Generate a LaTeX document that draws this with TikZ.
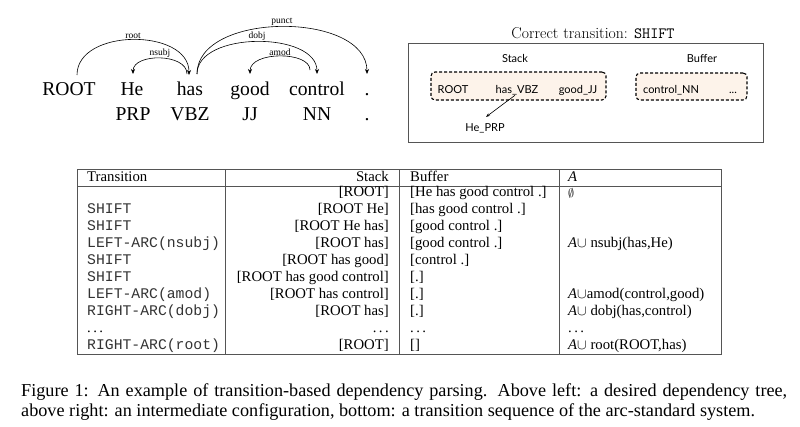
\documentclass[tikz,border=0pt]{standalone}
\usepackage{fontspec}
\newfontfamily\tms{Liberation Serif}
\newfontfamily\cour{Liberation Mono}
\newfontfamily\lato{Lato}
\usetikzlibrary{arrows.meta,calc}
\definecolor{peach}{HTML}{FDF3EA}
\definecolor{rulegray}{HTML}{555555}
\definecolor{monogray}{HTML}{333333}
\begin{document}
\begin{tikzpicture}[x=1pt,y=-1pt,
  word/.style={font=\tms\fontsize{19.6}{20}\selectfont, inner sep=0pt, anchor=base},
  deplbl/.style={font=\tms\fontsize{9.5}{10}\selectfont, inner sep=0.8pt},
  deparc/.style={draw, line width=0.6pt, -{Stealth[length=5pt,width=4pt]}},
  boxtxt/.style={font=\lato\fontsize{11}{12}\selectfont, inner sep=0pt, anchor=base},
  dbox/.style={draw, dashed, line width=1.1pt, dash pattern=on 3pt off 2pt, rounded corners=4pt, fill=peach},
  cell/.style={font=\tms\fontsize{14.75}{15}\selectfont, inner sep=0pt},
  mono/.style={font=\cour\fontsize{14.75}{15}\selectfont, text=monogray, inner sep=0pt},
  tline/.style={draw=rulegray, line width=0.8pt}
]
\useasboundingbox (0,0) rectangle (800,426);

% ---------- dependency tree ----------
\node[word] (w0) at (69,95) {ROOT};
\node[word] (w1) at (132,95) {He};
\node[word] (w2) at (190,95) {has};
\node[word] (w3) at (250,95) {good};
\node[word] (w4) at (317,95) {control};
\node[word] (w5) at (367,95) {.};
\node[word] (p1) at (133,120) {PRP};
\node[word] (p2) at (190,120) {VBZ};
\node[word] (p3) at (250,120) {JJ};
\node[word] (p4) at (317,120) {NN};
\node[word] (p5) at (367,120) {.};

\coordinate (r0) at ($(w0.base)+(8,-20)$);
\coordinate (r2) at ($(w2.base)+(-1,-20)$);
\coordinate (n2) at ($(w2.base)+(-3,-21)$);
\coordinate (n1) at ($(w1.base)+(1,-21)$);
\coordinate (d2) at ($(w2.base)+(7,-21)$);
\coordinate (d4) at ($(w4.base)+(0,-21)$);
\coordinate (a4) at ($(w4.base)+(-7,-25)$);
\coordinate (a3) at ($(w3.base)+(0,-21)$);
\coordinate (q5) at ($(w5.base)+(0,-21)$);

\draw[deparc] (r0) .. controls +(0,-47) and +(0,-47) .. node[deplbl, midway, above] {root} (r2);
\draw[deparc] (n2) .. controls +(0,-21) and +(0,-21) .. node[deplbl, midway, above] {nsubj} (n1);
\draw[deparc] (d2) .. controls +(0,-43) and +(0,-43) .. node[deplbl, midway, above] {dobj} (d4);
\draw[deparc] (a4) .. controls +(0,-19) and +(0,-23) .. node[deplbl, midway, above] {amod} (a3);
\draw[deparc] (d2) .. controls +(0,-63) and +(0,-63) .. node[deplbl, midway, above] {punct} (q5);

% ---------- configuration ----------
\node[anchor=base, inner sep=0pt, font=\fontsize{15.7}{16}\selectfont] (title) at (593,38) {Correct transition: \texttt{SHIFT}};
\node[draw=rulegray, line width=0.8pt, minimum width=355, minimum height=99, anchor=north west, inner sep=0pt] (cfg) at (408,43) {};
\node[boxtxt] (stk) at (515,62) {Stack};
\node[boxtxt] (buf) at (702,62) {Buffer};
\node[dbox, minimum width=175, minimum height=28] (sbox) at (518.5,86) {};
\node[dbox, minimum width=111, minimum height=27] (bbox) at (691.5,86.5) {};
\node[boxtxt] (c1) at (453,93.5) {ROOT};
\node[boxtxt] (c2) at (517,93.5) {has\_VBZ};
\node[boxtxt] (c3) at (578,93.5) {good\_JJ};
\node[boxtxt] (c4) at (671,93.5) {control\_NN};
\node[boxtxt] (c5) at (733,93.5) {...};
\node[boxtxt] (c6) at (485,131) {He\_PRP};
\draw[line width=0.6pt, -{Stealth[length=4pt,width=3pt]}] ($(c2.south)+(-2,0)$) -- ($(c6.north)+(1,-6)$);

% ---------- table ----------
\draw[tline] (77,169) rectangle (721,354);
\draw[tline] (77,186) -- (721,186);
\draw[tline] (225,169) -- (225,354);
\draw[tline] (399,169) -- (399,354);
\draw[tline] (559,169) -- (559,354);

\node[cell, anchor=base west] (h1) at (87,181) {Transition};
\node[cell, anchor=base east] (h2) at (389,181) {Stack};
\node[cell, anchor=base west] (h3) at (410,181) {Buffer};
\node[cell, anchor=base west] (h4) at (568,181) {\itshape A};

% row 0
\node[cell, anchor=base east] (s0) at (389,196.7) {[ROOT]};
\node[cell, anchor=base west] (b0) at (410,196.7) {[He has good control .]};
\node[anchor=base west, inner sep=0pt, font=\fontsize{12.5}{13}\selectfont] (a0) at (568,197) {$\emptyset$};
% row 1
\node[mono, anchor=base west] (t1) at (87,213.7) {SHIFT};
\node[cell, anchor=base east] (s1) at (389,213.7) {[ROOT He]};
\node[cell, anchor=base west] (b1) at (410,213.7) {[has good control .]};
% row 2
\node[mono, anchor=base west] (t2) at (87,230.6) {SHIFT};
\node[cell, anchor=base east] (s2) at (389,230.6) {[ROOT He has]};
\node[cell, anchor=base west] (b2) at (410,230.6) {[good control .]};
% row 3
\node[mono, anchor=base west] (t3) at (87,247.6) {LEFT-ARC(nsubj)};
\node[cell, anchor=base east] (s3) at (389,247.6) {[ROOT has]};
\node[cell, anchor=base west] (b3) at (410,247.6) {[good control .]};
\node[cell, anchor=base west] (a3c) at (568,247.6) {{\itshape A}$\cup$ nsubj(has,He)};
% row 4
\node[mono, anchor=base west] (t4) at (87,264.5) {SHIFT};
\node[cell, anchor=base east] (s4) at (389,264.5) {[ROOT has good]};
\node[cell, anchor=base west] (b4) at (410,264.5) {[control .]};
% row 5
\node[mono, anchor=base west] (t5) at (87,281.5) {SHIFT};
\node[cell, anchor=base east] (s5) at (389,281.5) {[ROOT has good control]};
\node[cell, anchor=base west] (b5) at (410,281.5) {[.]};
% row 6
\node[mono, anchor=base west] (t6) at (87,298.5) {LEFT-ARC(amod)};
\node[cell, anchor=base east] (s6) at (389,298.5) {[ROOT has control]};
\node[cell, anchor=base west] (b6) at (410,298.5) {[.]};
\node[cell, anchor=base west] (a6) at (568,298.5) {{\itshape A}$\cup$amod(control,good)};
% row 7
\node[mono, anchor=base west] (t7) at (87,315.4) {RIGHT-ARC(dobj)};
\node[cell, anchor=base east] (s7) at (389,315.4) {[ROOT has]};
\node[cell, anchor=base west] (b7) at (410,315.4) {[.]};
\node[cell, anchor=base west] (a7) at (568,315.4) {{\itshape A}$\cup$ dobj(has,control)};
% row 8
\node[cell, anchor=base west] (t8) at (87,332.4) {.\,.\,.};
\node[cell, anchor=base east] (s8) at (389,332.4) {.\,.\,.};
\node[cell, anchor=base west] (b8) at (410,332.4) {.\,.\,.};
\node[cell, anchor=base west] (a8) at (568,332.4) {.\,.\,.};
% row 9
\node[mono, anchor=base west] (t9) at (87,349.3) {RIGHT-ARC(root)};
\node[cell, anchor=base east] (s9) at (389,349.3) {[ROOT]};
\node[cell, anchor=base west] (b9) at (410,349.3) {[]};
\node[cell, anchor=base west] (a9) at (568,349.3) {{\itshape A}$\cup$ root(ROOT,has)};

% ---------- caption ----------
\node[anchor=base west, inner sep=0pt, text width=766pt, align=justify,
      font=\tms\fontsize{18.2}{20.5}\selectfont] (cap) at (21,396)
  {Figure 1: An example of transition-based dependency parsing. Above left: a desired dependency tree,\linebreak
   above right: an intermediate configuration, bottom: a transition sequence of the arc-standard system.};
\end{tikzpicture}
\end{document}
